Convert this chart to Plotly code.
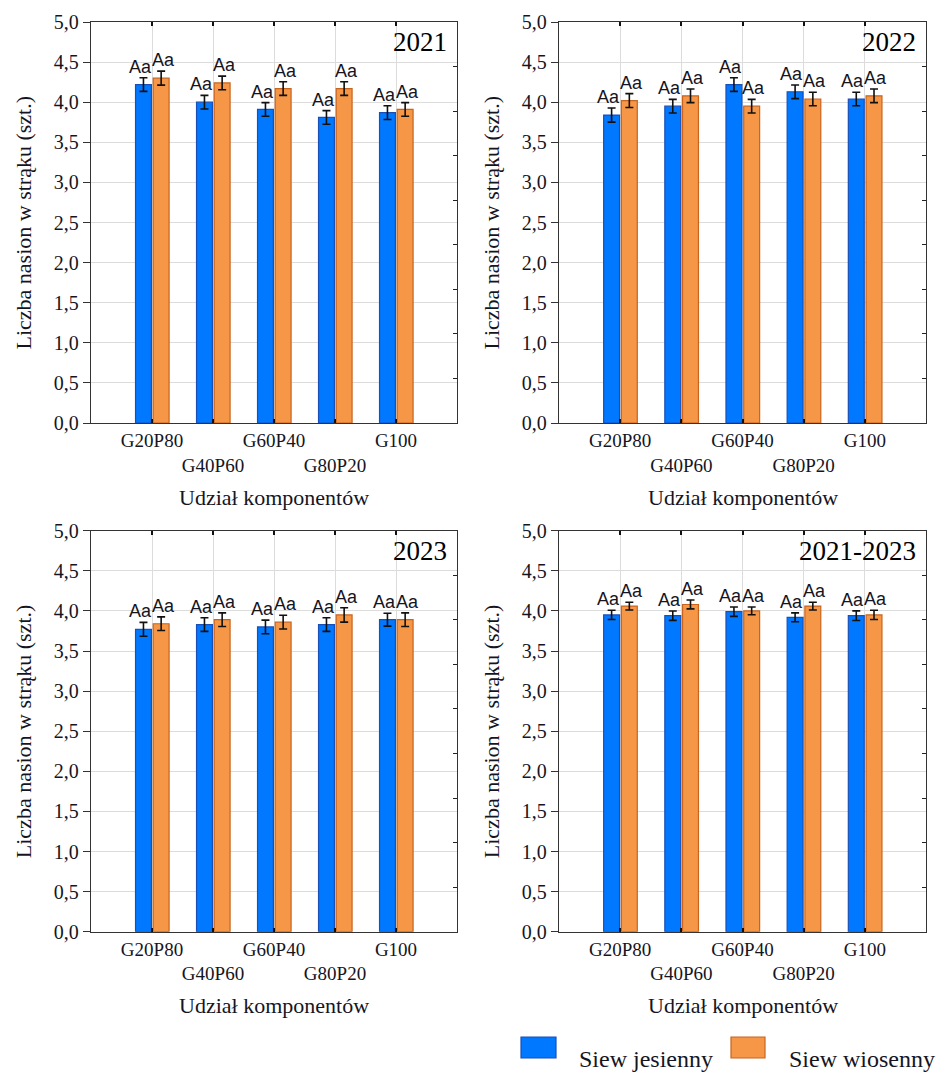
import plotly.graph_objects as go

# Categories (component share) and panel titles
categories = ["G20P80", "G40P60", "G60P40", "G80P20", "G100"]
panel_titles = ["2021", "2022", "2023", "2021-2023"]
series_names = ["Siew jesienny", "Siew wiosenny"]

# Mean number of seeds per pod, autumn sowing
autumn_2021 = [4.22, 4.00, 3.91, 3.81, 3.87]
autumn_2022 = [3.84, 3.95, 4.22, 4.13, 4.04]
autumn_2023 = [3.77, 3.83, 3.80, 3.83, 3.89]
autumn_all = [3.95, 3.94, 3.99, 3.92, 3.94]

# Mean number of seeds per pod, spring sowing
spring_2021 = [4.30, 4.24, 4.17, 4.17, 3.91]
spring_2022 = [4.02, 4.08, 3.95, 4.04, 4.08]
spring_2023 = [3.84, 3.89, 3.86, 3.95, 3.89]
spring_all = [4.06, 4.08, 4.00, 4.06, 3.95]

# Standard errors
autumn_err_2021 = [0.085, 0.085, 0.085, 0.085, 0.085]
spring_err_2021 = [0.087, 0.085, 0.085, 0.085, 0.085]
autumn_err_2022 = [0.088, 0.085, 0.085, 0.085, 0.085]
spring_err_2022 = [0.087, 0.085, 0.085, 0.085, 0.085]
autumn_err_2023 = [0.087, 0.085, 0.085, 0.085, 0.080]
spring_err_2023 = [0.085, 0.085, 0.085, 0.090, 0.085]
autumn_err_all = [0.058, 0.058, 0.058, 0.055, 0.060]
spring_err_all = [0.048, 0.055, 0.048, 0.048, 0.058]

# Significance letters
autumn_letters = ["Aa", "Aa", "Aa", "Aa", "Aa"]
spring_letters = ["Aa", "Aa", "Aa", "Aa", "Aa"]

y_tick_vals = [0, 0.5, 1, 1.5, 2, 2.5, 3, 3.5, 4, 4.5, 5]
y_tick_text = ["0,0", "0,5", "1,0", "1,5", "2,0", "2,5", "3,0", "3,5", "4,0", "4,5", "5,0"]
x_title = "Udział komponentów"
y_title = "Liczba nasion w strąku (szt.)"

panels = [
    (autumn_2021, spring_2021, autumn_err_2021, spring_err_2021),
    (autumn_2022, spring_2022, autumn_err_2022, spring_err_2022),
    (autumn_2023, spring_2023, autumn_err_2023, spring_err_2023),
    (autumn_all, spring_all, autumn_err_all, spring_err_all),
]

BLUE = "#0078FF"
BLUE_EDGE = "#1A4FB8"
ORANGE = "#F59746"
ORANGE_EDGE = "#C8641E"
SERIF = "Liberation Serif"
SANS = "Liberation Sans"
TEXT = "#15151f"
W, H = 943, 1072

x_domains = [(91 / W, 457 / W), (559 / W, 926 / W), (91 / W, 457 / W), (559 / W, 926 / W)]
y_domains = [(1 - 423 / H, 1 - 22 / H), (1 - 423 / H, 1 - 22 / H),
             (1 - 931.7 / H, 1 - 530.7 / H), (1 - 931.7 / H, 1 - 530.7 / H)]

# Staggered category labels (every second label on a lower row)
x_tick_text = [c if i % 2 == 0 else "<br>" + c for i, c in enumerate(categories)]

fig = go.Figure()
annotations = []
layout = {}

for p, (autumn, spring, a_err, s_err) in enumerate(panels):
    n = p + 1
    xa = "x" if n == 1 else f"x{n}"
    ya = "y" if n == 1 else f"y{n}"
    for vals, errs, name, fill, edge, off in [
        (autumn, a_err, series_names[0], BLUE, BLUE_EDGE, -0.27),
        (spring, s_err, series_names[1], ORANGE, ORANGE_EDGE, 0.02),
    ]:
        fig.add_trace(go.Bar(
            x=categories, y=vals, width=0.26, offset=off,
            marker=dict(color=fill, line=dict(color=edge, width=1.2)),
            error_y=dict(type="data", array=errs, color="#111111", thickness=1.6, width=4),
            name=name, showlegend=False, xaxis=xa, yaxis=ya,
        ))
    for vals, errs, letters, shift in [
        (autumn, a_err, autumn_letters, -12),
        (spring, s_err, spring_letters, 11),
    ]:
        for c, v, e, t in zip(categories, vals, errs, letters):
            annotations.append(dict(
                x=c, y=v + e, xref=xa, yref=ya, text=t, showarrow=False,
                xanchor="center", yanchor="bottom", xshift=shift, yshift=-1,
                font=dict(family=SANS, size=18, color=TEXT),
            ))

    xkey = "xaxis" if n == 1 else f"xaxis{n}"
    ykey = "yaxis" if n == 1 else f"yaxis{n}"
    layout[xkey] = dict(
        domain=list(x_domains[p]), anchor=ya, type="category",
        categoryorder="array", categoryarray=categories, range=[-1, 5],
        tickvals=categories, ticktext=x_tick_text, tickangle=0,
        ticks="inside", ticklen=4, tickcolor="#111", tickwidth=1.5,
        showline=True, linecolor="#333", linewidth=1.3, mirror="ticks",
        showgrid=True, gridcolor="#dcdcdc", gridwidth=1.2,
        tickfont=dict(family=SERIF, size=19, color=TEXT),
        zeroline=False, fixedrange=True, automargin=False,
    )
    layout[ykey] = dict(
        domain=list(y_domains[p]), anchor=xa, range=[0, 5],
        tickvals=y_tick_vals, ticktext=y_tick_text,
        ticks="outside", ticklen=7, tickcolor="#333", tickwidth=1,
        showline=True, linecolor="#333", linewidth=1.3, mirror=True,
        showgrid=True, gridcolor="#dcdcdc", gridwidth=1.2,
        tickfont=dict(family=SERIF, size=20, color=TEXT),
        zeroline=False, fixedrange=True, automargin=False,
    )
    # Right-hand inner ticks (independent division of the frame)
    rkey = f"yaxis{n + 4}"
    layout[rkey] = dict(
        overlaying=ya, anchor=xa, side="right", range=[0, 9], dtick=1,
        ticks="inside", ticklen=4, tickcolor="#222", tickwidth=1,
        showticklabels=False, showgrid=False, showline=False, zeroline=False,
        fixedrange=True, automargin=False,
    )
    fig.add_trace(go.Scatter(x=[None], y=[None], xaxis=xa, yaxis=f"y{n + 4}",
                             showlegend=False, hoverinfo="skip"))

    x0, x1 = x_domains[p]
    y0, y1 = y_domains[p]
    # Panel year label
    annotations.append(dict(
        x=x1, y=y1, xref="paper", yref="paper", text=panel_titles[p],
        showarrow=False, xanchor="right", yanchor="top", xshift=-8, yshift=-3,
        font=dict(family=SERIF, size=27, color="#000"),
    ))
    # Axis titles
    annotations.append(dict(
        x=(x0 + x1) / 2, y=y0, xref="paper", yref="paper", text=x_title,
        showarrow=False, xanchor="center", yanchor="middle", yshift=-74,
        font=dict(family=SERIF, size=22, color=TEXT),
    ))
    annotations.append(dict(
        x=x0, y=(y0 + y1) / 2, xref="paper", yref="paper", text=y_title,
        showarrow=False, xanchor="center", yanchor="middle", xshift=-68,
        textangle=-90, font=dict(family=SERIF, size=22, color=TEXT),
    ))

# Legend: swatches and labels at the bottom right
shapes = []
legend_items = [(521, 556, 577, series_names[0], BLUE, BLUE_EDGE),
                (731, 765, 787, series_names[1], ORANGE, ORANGE_EDGE)]
for sx0, sx1, tx, label, fill, edge in legend_items:
    shapes.append(dict(type="rect", xref="paper", yref="paper",
                       x0=sx0 / W, x1=sx1 / W, y0=1 - 1058 / H, y1=1 - 1037 / H,
                       fillcolor=fill, line=dict(color=edge, width=1.2)))
    annotations.append(dict(
        x=tx / W, y=1 - 1059 / H, xref="paper", yref="paper", text=label,
        showarrow=False, xanchor="left", yanchor="middle",
        font=dict(family=SERIF, size=24, color=TEXT),
    ))

fig.update_layout(
    width=W, height=H, margin=dict(l=0, r=0, t=0, b=0, autoexpand=False),
    paper_bgcolor="white", plot_bgcolor="white",
    barmode="overlay", showlegend=False,
    annotations=annotations, shapes=shapes,
    **layout,
)

fig.write_html("out.html")
